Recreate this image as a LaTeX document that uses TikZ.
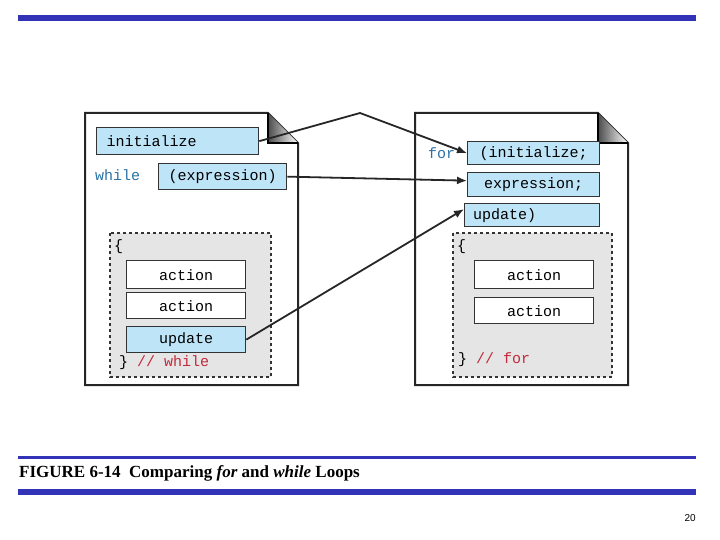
\documentclass[tikz,border=0pt]{standalone}
\usepackage{fontspec}
\usetikzlibrary{arrows.meta}
\setmainfont{Liberation Serif}
\newfontfamily\codefont{Liberation Mono}
\newfontfamily\sansf{Liberation Sans}
\definecolor{barblue}{HTML}{3333B8}
\definecolor{boxblue}{HTML}{BEE5F7}
\definecolor{kwblue}{HTML}{2A72A6}
\definecolor{cmred}{HTML}{C22A3C}
\definecolor{dgray}{HTML}{E5E5E5}
\begin{document}
\begin{tikzpicture}[x=1pt,y=-1pt,
  page/.style={draw=black!85,line width=2pt,fill=white},
  bb/.style={draw=black!80,line width=1.3pt,fill=boxblue,inner sep=0pt,font=\codefont\fontsize{15}{15}\selectfont},
  wb/.style={draw=black!80,line width=1.3pt,fill=white,inner sep=0pt,font=\codefont\fontsize{15}{15}\selectfont},
  blockbox/.style={draw=black!80,dashed,line width=1.3pt,fill=dgray},
  code/.style={font=\codefont\fontsize{15}{15}\selectfont,inner sep=0pt,anchor=west},
  arr/.style={line width=1.8pt,draw=black!85,-{Latex[length=10pt,width=8pt]}}]
\useasboundingbox (0,0) rectangle (720,540);
% bars
\fill[barblue] (18,15) rectangle (696,21);
\fill[barblue] (18,456) rectangle (696,459);
\fill[barblue] (18,489) rectangle (696,495);
\node[anchor=west,inner sep=0pt,font=\bfseries\fontsize{17}{17}\selectfont] (cap) at (19,473) {FIGURE 6-14\ \ Comparing \textit{for} and \textit{while} Loops};
\node[anchor=east,inner sep=0pt,font=\sansf\fontsize{10}{10}\selectfont] (pg) at (696,518) {20};
% pages
\draw[page] (85,113) -- (268,113) -- (298,143) -- (298,385) -- (85,385) -- cycle;
\shade[left color=black!70,right color=white] (268,113) -- (298,143) -- (268,143) -- cycle;
\draw[line width=1.3pt] (268,113) -- (268,143) -- (298,143);
\draw[page] (415,113) -- (598,113) -- (628,143) -- (628,385) -- (415,385) -- cycle;
\shade[left color=black!70,right color=white] (598,113) -- (628,143) -- (598,143) -- cycle;
\draw[line width=1.3pt] (598,113) -- (598,143) -- (628,143);
% left contents
\node[bb,minimum width=162,minimum height=27,anchor=north west,text width=150] (init) at (96,127) {\hspace*{4pt}initialize};
\node[code,text=kwblue] (wh) at (95,175) {while};
\node[bb,minimum width=128,minimum height=26,anchor=north west] (expr) at (158,163) {(expression)};
\draw[blockbox] (110,233) rectangle (271,377);
\node[code] (lb1) at (114,247) {\{};
\node[wb,minimum width=119,minimum height=28,anchor=north west] (a1) at (126,260) {action};
\node[wb,minimum width=119,minimum height=26,anchor=north west] (a2) at (126,292) {action};
\node[bb,minimum width=119,minimum height=26,anchor=north west] (upd) at (126,326) {update};
\node[code] (rb1) at (119,363) {\} \textcolor{cmred}{// while}};
% right contents
\node[code,text=kwblue] (for) at (428,153) {for};
\node[bb,minimum width=132,minimum height=23,anchor=north west] (init2) at (467,141) {(initialize;};
\node[bb,minimum width=132,minimum height=24,anchor=north west] (expr2) at (467,172) {expression;};
\node[bb,minimum width=135,minimum height=23,anchor=north west,text width=118] (upd2) at (464,203) {update)};
\draw[blockbox] (453,233) rectangle (612,377);
\node[code] (lb2) at (457,247) {\{};
\node[wb,minimum width=119,minimum height=28,anchor=north west] (b1) at (474,260) {action};
\node[wb,minimum width=119,minimum height=26,anchor=north west] (b2) at (474,297) {action};
\node[code] (rb2) at (458,360) {\} \textcolor{cmred}{// for}};
% arrows
\coordinate (top) at (360,113);
\draw[arr] (init.east) -- (top) -- (init2.west);
\draw[arr] (expr.east) -- ([yshift=4]expr2.west);
\draw[arr] (upd.east) -- ([yshift=6]upd2.west);
\end{tikzpicture}
\end{document}
